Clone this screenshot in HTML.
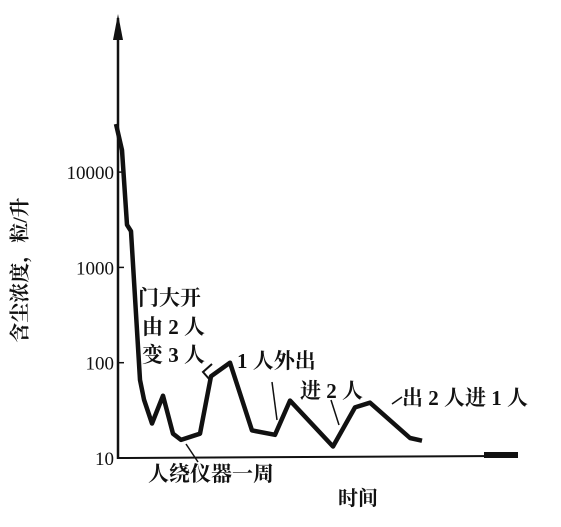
<!DOCTYPE html>
<html><head><meta charset="utf-8"><style>
body{margin:0;background:#fff}
svg text{font-family:"Liberation Serif","Noto Serif CJK SC","Noto Sans CJK SC",serif;fill:#111}
</style></head><body>
<svg width="561" height="522" viewBox="0 0 561 522">
<script>
var times=[0,6,11,15,24,28,36,47,57,65,84,95,114,136,159,174,217,239,254,294,306];
var dust=[32000,17000,2800,2400,66,41,23,45,18,15.5,18,72,100,19.5,17.5,40,13.2,34,38,16.2,15.2];
var tickLabels=["10","100","1000","10000"];
var tickVals=[10,100,1000,10000];
</script>
<g id="axes">
<line x1="118" y1="18" x2="118" y2="459" stroke="#111" stroke-width="2.5"/>
<polygon points="113,40 118,14 123,40" fill="#111"/>
<line x1="117" y1="458" x2="500" y2="456" stroke="#111" stroke-width="2"/>
<rect x="484" y="452" width="34" height="6" fill="#111"/>
</g>
<g id="ticks"></g>
<polyline id="series" fill="none" stroke="#111" stroke-width="4.5" stroke-linejoin="round"/>
<text x="22" y="270" font-size="20" font-weight="bold" transform="rotate(-90 22 270)" text-anchor="middle" dominant-baseline="middle">含尘浓度，粒/升</text>
<text x="338" y="505" font-size="20" font-weight="bold">时间</text>
<g font-size="21" font-weight="bold">
<text x="138" y="305">门大开</text>
<text x="142" y="334">由 2 人</text>
<text x="142" y="362">变 3 人</text>
<polyline points="212,364 203,372 210,380" fill="none" stroke="#111" stroke-width="2"/>
<text x="237" y="368">1 人外出</text>
<line x1="272" y1="382" x2="277" y2="420" stroke="#111" stroke-width="1.5"/>
<text x="300" y="398">进 2 人</text>
<line x1="331" y1="400" x2="339" y2="425" stroke="#111" stroke-width="1.5"/>
<text x="402" y="405">出 2 人进 1 人</text>
<line x1="402" y1="397" x2="392" y2="404" stroke="#111" stroke-width="1.5"/>
<text x="148" y="481">人绕仪器一周</text>
<line x1="186" y1="444" x2="198" y2="462" stroke="#111" stroke-width="1.5"/>
</g>
<script>
var X0=116,XS=1.0,Y10=458,DEC=95.3;
function xs(t){return X0+t*XS;}
function ys(v){return Y10-(Math.log10(v)-1)*DEC;}
var pl=document.getElementById('series');
pl.setAttribute('points',times.map(function(t,i){return xs(t)+','+ys(dust[i]).toFixed(1);}).join(' '));
var g=document.getElementById('ticks');
var ns='http://www.w3.org/2000/svg';
tickVals.forEach(function(v,i){
 var l=document.createElementNS(ns,'line');
 l.setAttribute('x1',118);l.setAttribute('x2',124);
 l.setAttribute('y1',ys(v));l.setAttribute('y2',ys(v));
 l.setAttribute('stroke','#111');l.setAttribute('stroke-width','1.5');
 
 
 g.appendChild(l);
 var t=document.createElementNS(ns,'text');
 t.setAttribute('x',114);t.setAttribute('y',ys(v)+7);
 t.setAttribute('text-anchor','end');t.setAttribute('font-size','19');
 t.textContent=tickLabels[i];
 
 
 g.appendChild(t);
});
</script>
</svg>
</body></html>
